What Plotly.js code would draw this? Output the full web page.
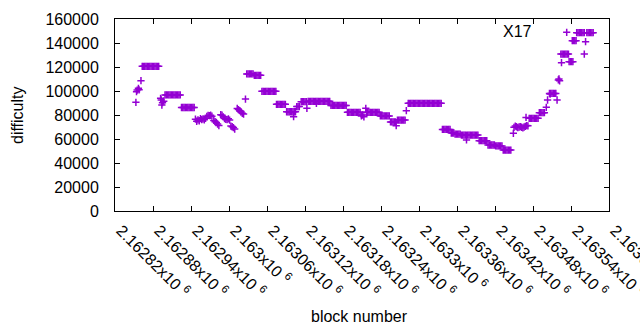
<!DOCTYPE html>
<html>
<head>
<meta charset="utf-8">
<script src="https://cdn.plot.ly/plotly-3.0.1.min.js"></script>
<style>html,body{margin:0;padding:0;background:#fff;}</style>
</head>
<body>
<div id="chart" style="width:640px;height:330px;"></div>
<script>
const BASE_BLOCK = 2162820;
const seriesName = "X17";

const blockOffset = [
  33,34,35,37,38,41,
  43,45,47,49,51,53,55,57,59,61,63,65,67,69,
  72,73,74,75,77,
  79,81,83,85,87,89,91,93,95,97,99,101,103,
  105,107,109,111,113,115,117,119,121,123,125,
  127,129,131,133,135,137,139,141,143,
  145,147,149,151,153,
  156,158,160,162,164,
  167,169,171,173,175,177,179,181,
  183,185,187,189,
  193,195,197,199,201,203,206,
  208,210,212,214,216,218,220,222,224,226,228,230,
  232,234,236,238,240,242,244,246,248,250,252,254,
  255,257,259,261,263,265,267,269,
  271,273,275,277,279,281,283,285,282,
  287,289,291,
  294,296,298,300,302,303,
  305,307,309,311,313,315,317,319,321,323,325,327,329,331,333,335,337,339,318,
  341,343,345,347,349,351,353,355,357,359,361,363,365,
  367,369,371,373,375,377,379,381,383,385,387,
  389,391,393,396,
  397,399,401,403,405,407,409,411,413,415,417,
  419,421,423,425,427,429,431,433,
  435,437,439,441,443,444,
  446,448,450,452,454,456,458,460,
  463,465,467,469,471,473,475,477,479,481,483,485,487,489,491,493,495,497,499,501,503,505,507,509,511,513,515,
  517,519,521,523,525,527,529,
  531,533,535,
  537,539,541,543,545,547,549,551,553,555,557,559,561,563,565,567,569,571,573,555,
  575,577,579,581,583,585,587,
  589,591,593,595,597,599,
  601,603,605,607,609,611,
  613,615,617,619,621,623,625,
  629,630,
  632,634,636,638,640,642,644,646,648,650,652,
  649,654,656,658,660,662,664,666,668,
  670,672,674,676,678,
  681,683,687,
  686,688,690,692,694,696,698,
  700,701,702,705,
  704,706,708,710,712,714,716,
  717,719,721,723,
  722,724,726,728,
  729,731,733,735,737,739,741,745,747,749,751,753,755,
  741,743
];

const difficulty = [
  90600,99400,100800,102200,101000,108600,
  120600,120600,120600,120600,120600,120600,120600,120600,120600,120600,120600,120600,120600,120600,
  93900,92500,88300,90300,91500,
  96700,96700,96700,96700,96700,96700,96700,96700,96700,96700,96700,96700,96700,
  86250,86250,86250,86250,86250,86250,86250,86250,86250,86250,86250,
  76500,74800,76000,75200,77000,76200,76800,76000,77200,
  78800,79600,79400,79800,79000,
  75500,74400,73800,72500,71200,
  80200,79800,78500,77000,76400,76200,76800,75800,
  70800,70200,69500,68300,
  85500,84500,83600,82500,81400,80800,93300,
  114200,114200,114200,114200,114200,114200,113100,113100,113100,113100,113100,113100,
  99700,99700,99700,99700,99700,99700,99700,99700,99700,99700,99700,99700,
  88900,88900,88900,88900,88900,88900,88900,88900,
  82700,82700,82700,82700,82700,82700,82700,82700,78600,
  87000,87000,87000,
  91100,91100,91100,91100,91100,85600,
  91400,91400,91400,91400,91400,91400,91400,91400,91400,91400,91400,91400,91400,91400,91400,91400,91400,91400,89700,
  88000,88000,88000,88000,88000,88000,88000,88000,88000,88000,88000,88000,88000,
  82200,82200,82200,82200,82200,82200,82200,82200,82200,82200,82200,
  79200,80000,78500,85600,
  82200,82200,82200,82200,82200,82200,82200,82200,82200,82200,82200,
  79200,79200,79200,79200,79200,79200,79200,79200,
  74200,74200,74200,74200,74200,71100,
  75800,75800,75800,75800,75800,75800,75800,83600,
  89700,89700,89700,89700,89700,89700,89700,89700,89700,89700,89700,89700,89700,89700,89700,89700,89700,89700,89700,89700,89700,89700,89700,89700,89700,89700,89700,
  68000,68000,68000,68000,68000,68000,68000,
  65000,65000,65000,
  64000,64000,64000,64000,64000,63300,63300,63300,63300,63300,63300,63300,63300,63300,63300,63300,63300,63300,63300,59200,
  58600,58600,58600,58600,58600,58600,58600,
  55000,55000,55000,55000,55000,55000,
  54200,54200,54200,54200,54200,54200,
  50800,50800,50800,50800,50800,50800,50800,
  64700,69700,
  70800,70200,69500,70000,70400,69800,69200,70000,70600,71200,71000,
  78000,77200,77200,77200,77200,77200,77200,77200,77200,
  81900,81900,81900,81900,81900,
  86400,92500,97500,
  98000,98000,98000,98000,98000,98000,92500,
  109200,110000,108500,123600,
  130800,130800,130800,130800,130800,130800,130800,
  124400,124400,124400,124400,
  141900,141900,141900,141900,
  148600,148600,148600,148600,148600,148600,148600,148600,148600,148600,148600,148600,148600,
  130800,141100
];

const xTickVals = [2162820,2162880,2162940,2163000,2163060,2163120,2163180,2163240,2163300,2163360,2163420,2163480,2163540,2163600];
const xTickText = ["2.16282","2.16288","2.16294","2.163","2.16306","2.16312","2.16318","2.16324","2.1633","2.16336","2.16342","2.16348","2.16354","2.1636"].map(s => s + "x10 <sup>6</sup>");
const yTickVals = [0,20000,40000,60000,80000,100000,120000,140000,160000];
const yTickText = ["0","20000","40000","60000","80000","100000","120000","140000","160000"];

if (blockOffset.length !== difficulty.length) console.error("length mismatch", blockOffset.length, difficulty.length);

const COLOR = "#9400d3";
const L = 115, R = 609, T = 19, B = 211;

const trace = {
  type: "scatter",
  mode: "markers",
  name: seriesName,
  x: blockOffset.map(o => BASE_BLOCK + o),
  y: difficulty,
  marker: {symbol: "cross-thin", size: 5.2, color: COLOR, line: {color: COLOR, width: 1.5}},
  hoverinfo: "x+y"
};

const axisCommon = {
  showline: true, linecolor: "black", linewidth: 1, mirror: "ticks",
  ticks: "inside", ticklen: 5, tickwidth: 1, tickcolor: "black",
  showgrid: false, zeroline: false, fixedrange: true
};

const layout = {
  width: 640, height: 330,
  margin: {l: L, r: 640 - R, t: T, b: 330 - B, pad: 0},
  paper_bgcolor: "white", plot_bgcolor: "white",
  font: {family: '"Liberation Sans", Arial, sans-serif', size: 16, color: "black"},
  showlegend: false,
  xaxis: Object.assign({}, axisCommon, {
    range: [2162820, 2163600], tickmode: "array", tickvals: xTickVals, ticktext: xTickText,
    tickangle: 45, ticklabelstandoff: 3, ticklabelshift: 6, ticklabeloverflow: "allow"
  }),
  yaxis: Object.assign({}, axisCommon, {
    range: [0, 160000], tickmode: "array", tickvals: yTickVals, ticktext: yTickText,
    ticklabelstandoff: 12
  }),
  annotations: [
    {text: seriesName, xref: "paper", yref: "paper", x: (534 - L) / (R - L), xanchor: "right",
     y: (B - 31.7) / (B - T), yanchor: "middle", showarrow: false},
    {text: "difficulty", xref: "paper", yref: "paper", x: (17 - L) / (R - L), xanchor: "center",
     y: 0.5, yanchor: "middle", textangle: -90, showarrow: false},
    {text: "block number", xref: "paper", yref: "paper", x: (359 - L) / (R - L), xanchor: "center",
     y: (B - 316) / (B - T), yanchor: "middle", showarrow: false}
  ],
  shapes: [
    {type: "path", xref: "paper", yref: "paper", xsizemode: "pixel", ysizemode: "pixel",
     xanchor: (566.7 - L) / (R - L), yanchor: (B - 32.3) / (B - T),
     path: "M-3.6,0H3.6M0,-3.6V3.6", line: {color: COLOR, width: 1.5}}
  ]
};

Plotly.newPlot("chart", [trace], layout, {displayModeBar: false, staticPlot: true});
</script>
</body>
</html>
